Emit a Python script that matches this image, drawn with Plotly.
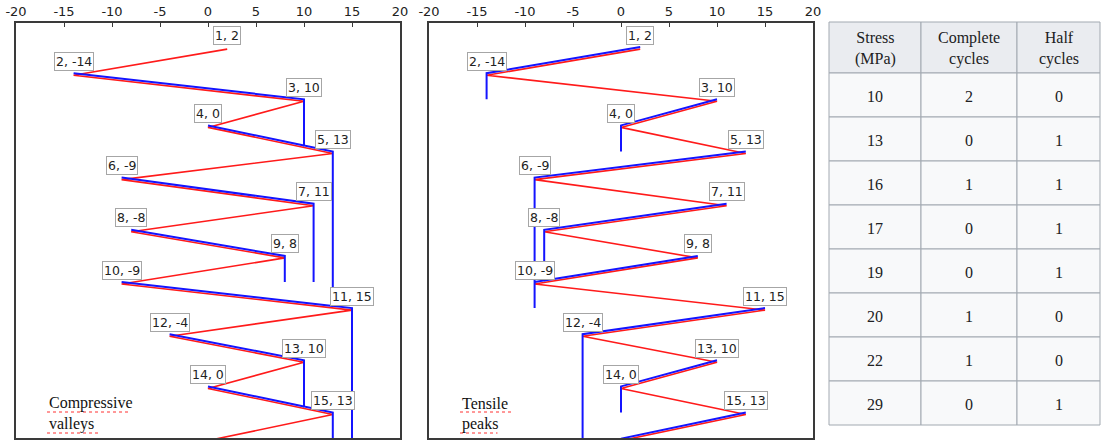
import plotly.graph_objects as go

# Load history: point number and stress (MPa)
point_no = list(range(1, 17))
stress = [2, -14, 10, 0, 13, -9, 11, -8, 8, -9, 15, -4, 10, 0, 13, 0]
x_ticks = [-20, -15, -10, -5, 0, 5, 10, 15, 20]
x_tick_text = ["-20", "-15", "-10", "-5", "0", "5", "10", "15", "20"]

panel_titles = [["Compressive", "valleys"], ["Tensile", "peaks"]]

# Counting result
table_header = ["Stress<br>(MPa)", "Complete<br>cycles", "Half<br>cycles"]
stress_range = [10, 13, 16, 17, 19, 20, 22, 29]
complete_cycles = [2, 0, 1, 0, 0, 1, 1, 0]
half_cycles = [0, 1, 1, 1, 1, 0, 0, 1]

RED = "#ff1a1a"
BLUE = "#1414ff"
W, H = 1105, 442


def rain_paths(values, from_peaks):
    """Pagoda-roof rainflow paths as (stress list, point-number list) pairs."""
    sgn = 1 if from_peaks else -1
    v = [sgn * a for a in values]
    n = len(v)
    landings = {}  # segment start -> stress where an earlier flow landed on it
    drips = []     # (stress, top row, bottom row)
    paths = []
    for i in range(n - 1):
        if not v[i] > v[i + 1]:
            continue
        start = v[i]
        xs, ys = [v[i]], [i + 1]
        seg, x_cur = i, v[i]
        new_drips, new_land = [], {}
        while True:
            a, b = v[seg], v[seg + 1]
            row0 = seg + 1
            stops = []
            if seg in landings and b <= landings[seg] < x_cur:
                stops.append(landings[seg])
            for xd, yt, yb in drips:
                if b <= xd < x_cur:
                    yy = row0 + (a - xd) / (a - b)
                    if yt - 1e-9 <= yy <= yb + 1e-9:
                        stops.append(xd)
            if stops:
                xs_ = max(stops)
                xs.append(xs_)
                ys.append(row0 + (a - xs_) / (a - b))
                break
            xs.append(b)
            ys.append(row0 + 1)
            k = seg + 1
            if k == n - 1:
                break
            x_cur = b
            landed = False
            y_end = n
            for j in range(k + 1, n):
                if v[j] >= start:
                    y_end = j + 1
                    break
                if j < n - 1 and v[j] > x_cur > v[j + 1]:
                    y_end = j + 1 + (v[j] - x_cur) / (v[j] - v[j + 1])
                    landed = True
                    break
            xs.append(x_cur)
            ys.append(y_end)
            new_drips.append((x_cur, k + 1, y_end))
            if not landed:
                break
            new_land[j] = x_cur
            seg = j
        drips.extend(new_drips)
        landings.update(new_land)
        paths.append(([sgn * x for x in xs], ys))
    return paths


Y_TOP, Y_BOT = 23, 438
Y_RANGE = [15.9, 0.0]
shift = 2.0 * (Y_RANGE[0] - Y_RANGE[1]) / (Y_BOT - Y_TOP)  # lift the flow lines ~2 px

panels = [
    dict(x0=16, x1=400, xa="x", ya="y", yb="y2", peaks=False),
    dict(x0=429, x1=813, xa="x2", ya="y3", yb="y4", peaks=True),
]

fig = go.Figure()
annotations = []
shapes = []
for p, words in zip(panels, panel_titles):
    fig.add_trace(go.Scatter(
        x=stress, y=point_no, mode="lines", xaxis=p["xa"], yaxis=p["ya"],
        line=dict(color=RED, width=1.6), hoverinfo="skip", showlegend=False))
    for xs, ys in rain_paths(stress, p["peaks"]):
        fig.add_trace(go.Scatter(
            x=xs, y=ys, mode="lines", xaxis=p["xa"], yaxis=p["yb"],
            line=dict(color=BLUE, width=2), hoverinfo="skip", showlegend=False))
    for k, s in zip(point_no, stress):
        annotations.append(dict(
            x=s, y=k, xref=p["xa"], yref=p["ya"], text=f"{k}, {s}",
            showarrow=False, yshift=14, bgcolor="white",
            bordercolor="#a6a6a6", borderwidth=1, borderpad=1,
            xanchor="center", yanchor="middle",
            font=dict(family="DejaVu Sans", size=12.5, color="#222222")))
    # two-line caption in the lower left corner, with a spell-check style underline
    left = p["x0"] + 31
    for li, word in enumerate(words):
        y_mid = 403 + 21 * li
        annotations.append(dict(
            x=left / W, y=1 - y_mid / H, xref="paper", yref="paper", text=word,
            showarrow=False, xanchor="left", yanchor="middle",
            font=dict(family="Liberation Serif", size=16, color="#111111")))
        wlen = 7.5 * len(word)
        shapes.append(dict(
            type="line", xref="paper", yref="paper",
            x0=left / W, x1=(left + wlen) / W,
            y0=1 - (y_mid + 9) / H, y1=1 - (y_mid + 9) / H,
            line=dict(color="#ff3030", width=1, dash="dot")))

axis_common = dict(showgrid=False, zeroline=False, showline=True, mirror=True,
                   linecolor="#3a3a3a", linewidth=1.5, automargin=False)
y_dom = [1 - Y_BOT / H, 1 - Y_TOP / H]
layout_axes = {}
for idx, p in enumerate(panels):
    xn = "xaxis" if idx == 0 else "xaxis2"
    yn = "yaxis" if idx == 0 else "yaxis3"
    ybn = "yaxis2" if idx == 0 else "yaxis4"
    layout_axes[xn] = dict(
        axis_common, domain=[p["x0"] / W, p["x1"] / W], range=[-20, 20],
        side="top", anchor=p["ya"], tickvals=x_ticks, ticktext=x_tick_text,
        ticks="inside", ticklen=4, tickcolor="#3a3a3a",
        tickfont=dict(family="DejaVu Sans", size=13, color="#222222"))
    layout_axes[yn] = dict(axis_common, domain=y_dom, range=Y_RANGE, anchor=p["xa"],
                           showticklabels=False, ticks="")
    layout_axes[ybn] = dict(overlaying=p["ya"], anchor=p["xa"], visible=False,
                            automargin=False,
                            range=[Y_RANGE[0] + shift, Y_RANGE[1] + shift])

# Counting table, built cell by cell from the result lists
TX0, TY0 = 829, 22
col_w = [92, 96, 83]
head_h, row_h = 51, 44
col_x = [TX0]
for w in col_w:
    col_x.append(col_x[-1] + w)
columns = [stress_range, complete_cycles, half_cycles]
tfont = dict(family="Liberation Serif", size=16, color="#202122")
for c in range(3):
    xl, xr = col_x[c] / W, col_x[c + 1] / W
    shapes.append(dict(type="rect", xref="paper", yref="paper", layer="below",
                       x0=xl, x1=xr, y0=1 - TY0 / H, y1=1 - (TY0 + head_h) / H,
                       fillcolor="#eaecf0", line=dict(color="#a2a9b1", width=1)))
    annotations.append(dict(x=(xl + xr) / 2, y=1 - (TY0 + head_h / 2 + 1) / H,
                            xref="paper", yref="paper", text=table_header[c],
                            xanchor="center", yanchor="middle",
                            showarrow=False, font=tfont, align="center"))
    for r, val in enumerate(columns[c]):
        top = TY0 + head_h + r * row_h
        shapes.append(dict(type="rect", xref="paper", yref="paper", layer="below",
                           x0=xl, x1=xr, y0=1 - top / H, y1=1 - (top + row_h) / H,
                           fillcolor="#f8f9fa", line=dict(color="#a2a9b1", width=1)))
        annotations.append(dict(x=(xl + xr) / 2, y=1 - (top + row_h / 2 + 1) / H,
                                xref="paper", yref="paper", text=str(val),
                                xanchor="center", yanchor="middle",
                                showarrow=False, font=tfont))

fig.update_layout(
    width=W, height=H, margin=dict(l=0, r=0, t=0, b=0),
    paper_bgcolor="white", plot_bgcolor="white",
    annotations=annotations, shapes=shapes, **layout_axes)

fig.write_html("out.html")
